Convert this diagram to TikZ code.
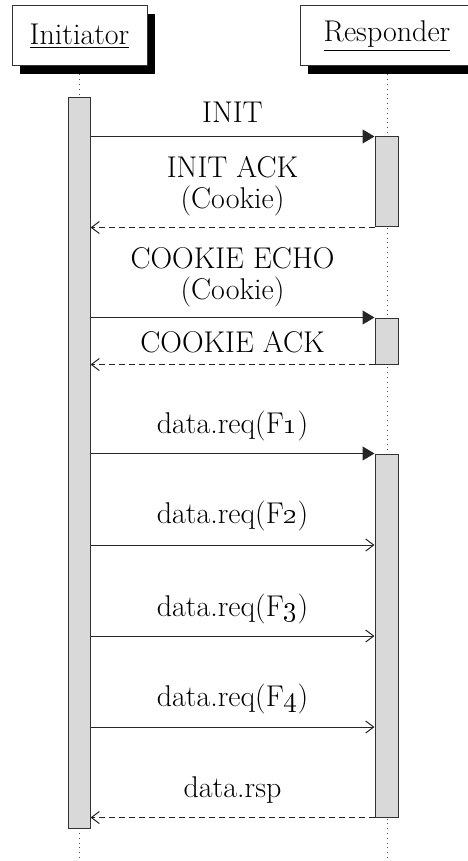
\documentclass[tikz,border=0pt]{standalone}
\usepackage{tikz}
\usetikzlibrary{positioning, fit, shadows, arrows.meta}

\tikzset{
    actor/.style={draw=black!80, fill=white, line width=0.5pt, minimum height=30pt,
        inner sep=0pt, font=\fontsize{15}{15.5}\selectfont,
        drop shadow={shadow xshift=4pt, shadow yshift=-4pt, fill=black, opacity=1}},
    bar/.style={draw=black!80, fill=black!15, line width=0.5pt, inner sep=0pt},
    life/.style={dotted, black!70, line width=0.4pt},
    call/.style={draw=black!85, line width=0.5pt, -{Triangle[length=6pt, width=7pt]}},
    send/.style={draw=black!85, line width=0.5pt, -{Straight Barb[length=4pt, width=6pt]}},
    reply/.style={send, dash pattern=on 3pt off 2pt},
    msg/.style={anchor=base, align=center, inner sep=0pt, font=\fontsize{15}{15.5}\selectfont}
}

\begin{document}
\begin{tikzpicture}[x=0.5pt, y=-0.5pt]
    \useasboundingbox (0,0) rectangle (467,861);

    % lanes
    \node[actor, minimum width=67.5pt] (init) at (79.5,36) {\underline{Initiator}};
    \node[actor, minimum width=87pt] (resp) at (387,36) {\underline{Responder}};
    \draw[life] ([yshift=-4pt]init.south) -- (init |- 0,861);
    \draw[life] ([yshift=-4pt]resp.south) -- (resp |- 0,861);

    % activations
    \node[bar, fit={(68,98) (90,828)}] (ibar) {};
    \node[bar, fit={(375,137) (398,227)}] (rbar1) {};
    \node[bar, fit={(375,318) (398,364)}] (rbar2) {};
    \node[bar, fit={(375,454) (398,817)}] (rbar3) {};

    % association
    \draw[call] (ibar.east |- rbar1.north) -- (rbar1.north west);
    \draw[reply] (rbar1.south west) -- (ibar.east |- rbar1.south);
    \draw[call] (ibar.east |- rbar2.north) -- (rbar2.north west);
    \draw[reply] (rbar2.south west) -- (ibar.east |- rbar2.south);
    \node[msg] (linit) at (232.5,123) {INIT};
    \node[msg] (lack) at (232.5,209) {INIT ACK\\(Cookie)};
    \node[msg] (lecho) at (232.5,299) {COOKIE ECHO\\(Cookie)};
    \node[msg] (lcack) at (232.5,352) {COOKIE ACK};

    % data transfer
    \draw[call] (ibar.east |- rbar3.north) -- (rbar3.north west);
    \foreach \y in {545,636,727}
        \draw[send] (ibar.east |- 0,\y) -- (rbar3.west |- 0,\y);
    \draw[reply] (rbar3.south west) -- (ibar.east |- rbar3.south);
    \node[msg] (lreq1) at (232.5,433) {data.req(F\oldstylenums{1})};
    \node[msg] (lreq2) at (232.5,523) {data.req(F\oldstylenums{2})};
    \node[msg] (lreq3) at (232.5,616) {data.req(F\oldstylenums{3})};
    \node[msg] (lreq4) at (232.5,706) {data.req(F\oldstylenums{4})};
    \node[msg] (lrsp) at (232.5,797) {data.rsp};
\end{tikzpicture}
\end{document}
